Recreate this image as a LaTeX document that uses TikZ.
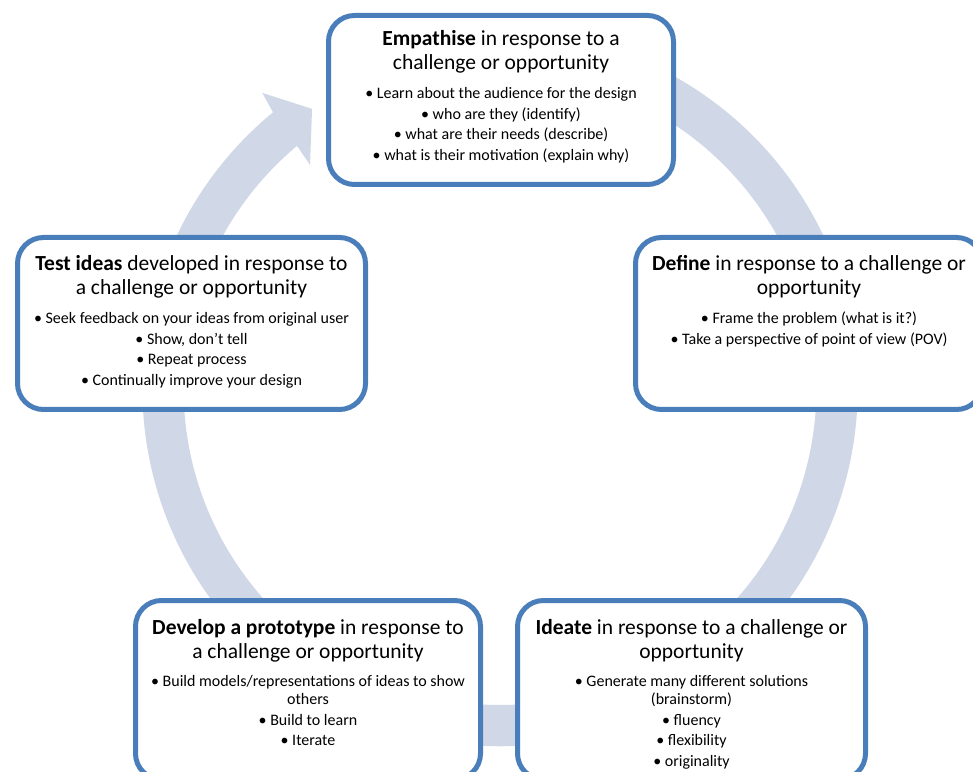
\documentclass[tikz,border=0pt]{standalone}
\usepackage{fontspec}
\setmainfont{Carlito}
\definecolor{ringfill}{HTML}{D0D8E8}
\definecolor{boxline}{HTML}{4A7EBB}
\newcommand{\itemgap}{\\[3.2pt]}
\begin{document}
\begin{tikzpicture}[x=1pt,y=1pt,
  stagebox/.style={draw=boxline, line width=5pt, fill=white, rounded corners=26pt, inner sep=0pt},
  headtext/.style={anchor=north, align=center, inner sep=0pt, font=\fontsize{21.5}{24.5}\selectfont},
  itemtext/.style={anchor=north, align=center, inner sep=0pt, font=\fontsize{16}{17.5}\selectfont}]
\useasboundingbox (0,0) rectangle (973,771);
\clip (0,0) rectangle (973,771);

% circular arrow running clockwise behind the five stages
\coordinate (hub) at (500,382.4);
\begin{scope}[shift={(hub)}]
  \fill[ringfill] (100:357.6pt) arc[start angle=100, end angle=-230.6, radius=357.6pt]
    -- (128.8:379.5pt) -- (123.9:337pt) -- (130.35:293.4pt) -- (129.9:316.4pt)
    arc[start angle=-230.1, end angle=100, radius=316.4pt] -- cycle;
\end{scope}

% stage boxes
\node[stagebox, minimum width=345pt, minimum height=169pt] (empathise) at (501,671) {};
\node[stagebox, minimum width=348pt, minimum height=172pt] (test) at (191.5,447.5) {};
\node[stagebox, minimum width=347pt, minimum height=172pt] (define) at (809,447.5) {};
\node[stagebox, minimum width=345pt, minimum height=179pt] (develop) at (308,81) {};
\node[stagebox, minimum width=348pt, minimum height=179pt] (ideate) at (691.5,81) {};

% Empathise
\node[headtext] (empathise-head) at (501,743.2)
  {\strut\textbf{Empathise} in response to a\\challenge or opportunity};
\node[itemtext] (empathise-items) at (501,685)
  {\strut• Learn about the audience for the design\itemgap
   • who are they (identify)\itemgap
   • what are their needs (describe)\itemgap
   • what is their motivation (explain why)};

% Test ideas
\node[headtext] (test-head) at (191.5,518.2)
  {\strut\textbf{Test ideas} developed in response to\\a challenge or opportunity};
\node[itemtext] (test-items) at (191.5,460)
  {\strut• Seek feedback on your ideas from original user\itemgap
   • Show, don’t tell\itemgap
   • Repeat process\itemgap
   • Continually improve your design};

% Define
\node[headtext] (define-head) at (809,518.2)
  {\strut\textbf{Define} in response to a challenge or\\opportunity};
\node[itemtext] (define-items) at (809,460)
  {\strut• Frame the problem (what is it?)\itemgap
   • Take a perspective of point of view (POV)};

% Develop a prototype
\node[headtext] (develop-head) at (308,154.2)
  {\strut\textbf{Develop a prototype} in response to\\a challenge or opportunity};
\node[itemtext] (develop-items) at (308,96.5)
  {\strut• Build models/representations of ideas to show\\others\itemgap
   • Build to learn\itemgap
   • Iterate};

% Ideate
\node[headtext] (ideate-head) at (691.5,154.2)
  {\strut\textbf{Ideate} in response to a challenge or\\opportunity};
\node[itemtext] (ideate-items) at (691.5,96.5)
  {\strut• Generate many different solutions\\(brainstorm)\itemgap
   • fluency\itemgap
   • flexibility\itemgap
   • originality};
\end{tikzpicture}
\end{document}
